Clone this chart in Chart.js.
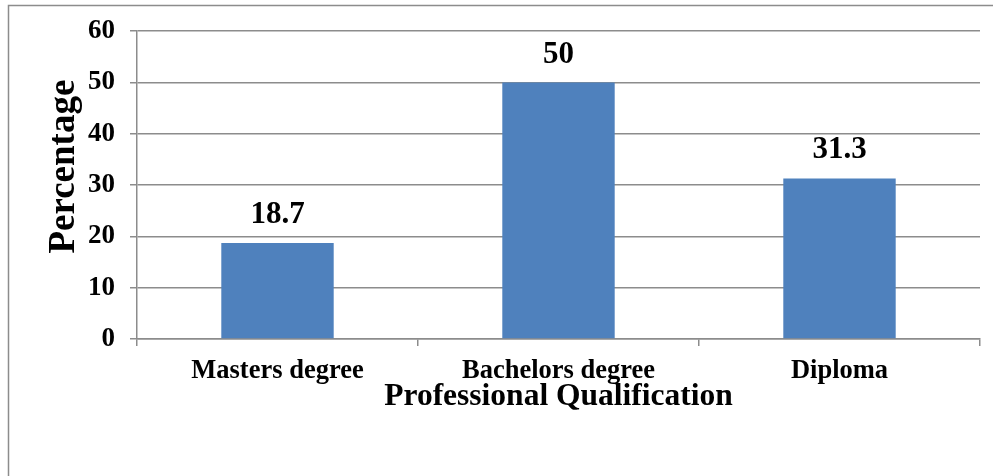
<!DOCTYPE html>
<html>
<head>
<meta charset="utf-8">
<script src="https://cdn.jsdelivr.net/npm/chart.js@4"></script>
<style>
  html, body { margin: 0; padding: 0; background: #ffffff; }
  #wrap { width: 993px; height: 476px; position: relative; }
</style>
</head>
<body>
<div id="wrap"><canvas id="qualChart"></canvas></div>
<script>
const categories = ['Masters degree', 'Bachelors degree', 'Diploma'];
const percentages = [18.7, 50, 31.3];
const yTicks = [0, 10, 20, 30, 40, 50, 60];

const SERIF = "'Liberation Serif', 'Times New Roman', serif";
const GRID = '#8c8c8c';

// outer frame of the figure (runs off the right and bottom edges)
const framePlugin = {
    id: 'frame',
    beforeDraw(chart) {
        const c = chart.ctx;
        c.save();
        c.fillStyle = '#ffffff';
        c.fillRect(0, 0, chart.width, chart.height);
        c.strokeStyle = GRID;
        c.lineWidth = 1.5;
        c.strokeRect(8.5, 5.5, 1100, 1000);
        c.restore();
    }
};

// value labels above bars + rotated y title
const labelPlugin = {
    id: 'labels',
    afterDatasetsDraw(chart) {
        const c = chart.ctx;
        const meta = chart.getDatasetMeta(0);
        c.save();
        c.fillStyle = '#000';
        c.font = "bold 31px " + SERIF;
        c.textAlign = 'center';
        c.textBaseline = 'alphabetic';
        meta.data.forEach((bar, i) => {
            c.fillText(String(percentages[i]), bar.x, bar.y - 20);
        });

        const area = chart.chartArea;
        c.font = "bold 37px " + SERIF;
        c.translate(74, area.top + (area.bottom - area.top) * 0.44);
        c.rotate(-Math.PI / 2);
        c.fillText('Percentage', 0, 0);
        c.restore();
    }
};

new Chart(document.getElementById('qualChart').getContext('2d'), {
    type: 'bar',
    data: {
        labels: categories,
        datasets: [{
            label: 'Percentage',
            data: percentages,
            backgroundColor: '#4f81bd',
            borderWidth: 0,
            barPercentage: 0.4,
            categoryPercentage: 1.0
        }]
    },
    options: {
        responsive: true,
        maintainAspectRatio: false,
        animation: false,
        layout: { padding: { left: 0, right: 13, top: 28, bottom: 0 } },
        plugins: {
            legend: { display: false },
            tooltip: { enabled: false }
        },
        scales: {
            x: {
                grid: {
                    offset: true,
                    drawOnChartArea: false,
                    drawTicks: true,
                    tickLength: 7,
                    color: GRID,
                    lineWidth: 1.5
                },
                border: { display: true, color: GRID, width: 1.5 },
                ticks: {
                    color: '#000',
                    padding: 9,
                    maxRotation: 0,
                    font: { family: SERIF, size: 26.5, weight: 'bold' }
                },
                title: {
                    display: true,
                    text: 'Professional Qualification',
                    color: '#000',
                    padding: { top: 0, bottom: 60 },
                    font: { family: SERIF, size: 31.5, weight: 'bold' }
                },
                afterFit(scale) { scale.height = 137; }
            },
            y: {
                min: yTicks[0],
                max: yTicks[yTicks.length - 1],
                afterBuildTicks(scale) { scale.ticks = yTicks.map(v => ({ value: v })); },
                grid: {
                    color: GRID,
                    lineWidth: 1.5,
                    drawTicks: true,
                    tickLength: 7
                },
                border: { display: true, color: GRID, width: 1.5 },
                ticks: {
                    color: '#000',
                    padding: 15,
                    font: { family: SERIF, size: 27, weight: 'bold' }
                },
                afterFit(scale) { scale.width = 137; }
            }
        }
    },
    plugins: [framePlugin, labelPlugin]
});
</script>
</body>
</html>
